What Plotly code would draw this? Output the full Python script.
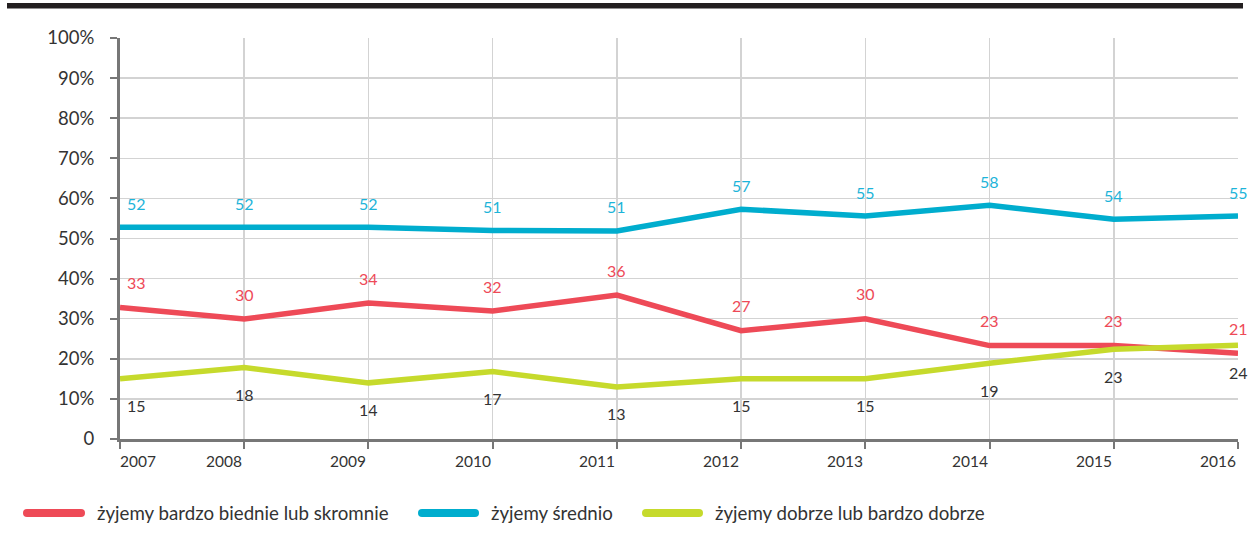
import plotly.graph_objects as go

years = [2007, 2008, 2009, 2010, 2011, 2012, 2013, 2014, 2015, 2016]
year_labels = ["2007", "2008", "2009", "2010", "2011", "2012", "2013", "2014", "2015", "2016"]

series_names = ["żyjemy bardzo biednie lub skromnie", "żyjemy średnio", "żyjemy dobrze lub bardzo dobrze"]

# plotted line positions
poor_values = [32.8, 29.9, 33.9, 31.9, 35.9, 27.0, 30.0, 23.3, 23.3, 21.4]
mid_values = [52.8, 52.8, 52.8, 52.0, 51.9, 57.3, 55.6, 58.3, 54.8, 55.6]
good_values = [15.0, 17.8, 14.0, 16.8, 13.0, 15.0, 15.0, 18.9, 22.4, 23.4]

# printed data labels
poor_labels = ["33", "30", "34", "32", "36", "27", "30", "23", "23", "21"]
mid_labels = ["52", "52", "52", "51", "51", "57", "55", "58", "54", "55"]
good_labels = ["15", "18", "14", "17", "13", "15", "15", "19", "23", "24"]

y_tickvals = [0, 10, 20, 30, 40, 50, 60, 70, 80, 90, 100]
y_ticktext = ["0", "10%", "20%", "30%", "40%", "50%", "60%", "70%", "80%", "90%", "100%"]

RED = "#EE4A57"
BLUE = "#00ADCE"
GREEN = "#C6DA2C"
BLUE_TXT = "#1DB4D9"
DARK = "#333333"
FONT = "Lato"

W, H = 1252, 542
# plot area in window pixels: x 120..1238, y 38..439
L, T = 120, 38
R = W - 1238
B = H - 439
PW = W - L - R
PH = H - T - B


def px_x(px):
    return (px - L) / PW


def px_y(py):
    return (H - B - py) / PH


fig = go.Figure()

series = [
    (series_names[0], poor_values, poor_labels, RED, RED, 25),
    (series_names[1], mid_values, mid_labels, BLUE, BLUE_TXT, 24),
    (series_names[2], good_values, good_labels, GREEN, DARK, -27),
]

annotations = []
for name, vals, labs, col, tcol, shift in series:
    fig.add_trace(go.Scatter(
        x=years, y=vals, mode="lines", name=name,
        line=dict(color=col, width=5.5, shape="linear"),
        showlegend=False, hoverinfo="skip",
    ))
    for i, (xv, yv, t) in enumerate(zip(years, vals, labs)):
        annotations.append(dict(
            x=xv, y=yv, xref="x", yref="y", text=t, showarrow=False,
            yshift=shift, xshift=16 if i == 0 else 0,
            font=dict(family=FONT, size=16, color=tcol),
            xanchor="center", yanchor="middle",
        ))

# x tick labels, right-aligned to the tick (first left-aligned)
for i, (xv, t) in enumerate(zip(years, year_labels)):
    annotations.append(dict(
        x=xv, y=px_y(461), xref="x", yref="paper", text=t, showarrow=False,
        xanchor="left" if i == 0 else "right", yanchor="middle",
        xshift=-2 if i == 0 else 0,
        font=dict(family=FONT, size=15.5, color=DARK),
    ))

shapes = [
    dict(type="rect", xref="paper", yref="paper",
         x0=px_x(7), x1=px_x(1243), y0=px_y(8.5), y1=px_y(3),
         fillcolor="#231F20", line=dict(width=0), layer="above"),
]

# legend
legend_items = [
    (RED, 27, 81, 95, series_names[0]),
    (BLUE, 422, 475, 489, series_names[1]),
    (GREEN, 646, 699, 713, series_names[2]),
]
ly = px_y(513)
for col, a, b, tx, name in legend_items:
    Ln = b - a
    r = 4
    path = (f"M 0,{-r} L {Ln},{-r} Q {Ln + r},{-r} {Ln + r},0 Q {Ln + r},{r} {Ln},{r} "
            f"L 0,{r} Q {-r},{r} {-r},0 Q {-r},{-r} 0,{-r} Z")
    shapes.append(dict(type="path", xref="paper", yref="paper",
                       xsizemode="pixel", ysizemode="pixel",
                       xanchor=px_x(a), yanchor=ly, path=path,
                       fillcolor=col, line=dict(width=0)))
    annotations.append(dict(
        x=px_x(tx), y=ly, xref="paper", yref="paper", text=name, showarrow=False,
        xanchor="left", yanchor="middle",
        font=dict(family=FONT, size=18.7, color=DARK),
    ))

fig.update_layout(
    width=W, height=H,
    margin=dict(l=L, r=R, t=T, b=B, autoexpand=False),
    paper_bgcolor="white", plot_bgcolor="white",
    font=dict(family=FONT, color=DARK),
    annotations=annotations, shapes=shapes,
    showlegend=False,
)

fig.update_xaxes(
    range=[2007, 2016], tickvals=years, showticklabels=False,
    showgrid=True, gridcolor="#D3D3D3", gridwidth=1.5,
    showline=True, linecolor="#777777", linewidth=3,
    ticks="outside", ticklen=7, tickwidth=2, tickcolor="#777777",
    zeroline=False, fixedrange=True,
)
fig.update_yaxes(
    range=[0, 100], tickvals=y_tickvals, ticktext=y_ticktext,
    showgrid=True, gridcolor="#D3D3D3", gridwidth=1.5,
    showline=True, linecolor="#777777", linewidth=3,
    ticks="outside", ticklen=7, tickwidth=2, tickcolor="#777777",
    ticklabelstandoff=12,
    tickfont=dict(family=FONT, size=18.5, color=DARK),
    zeroline=False, fixedrange=True,
)

fig.write_html(
    "out.html",
    config={"displayModeBar": False, "staticPlot": True},
    post_script="document.body.style.margin='0';document.body.style.overflow='hidden';",
)
